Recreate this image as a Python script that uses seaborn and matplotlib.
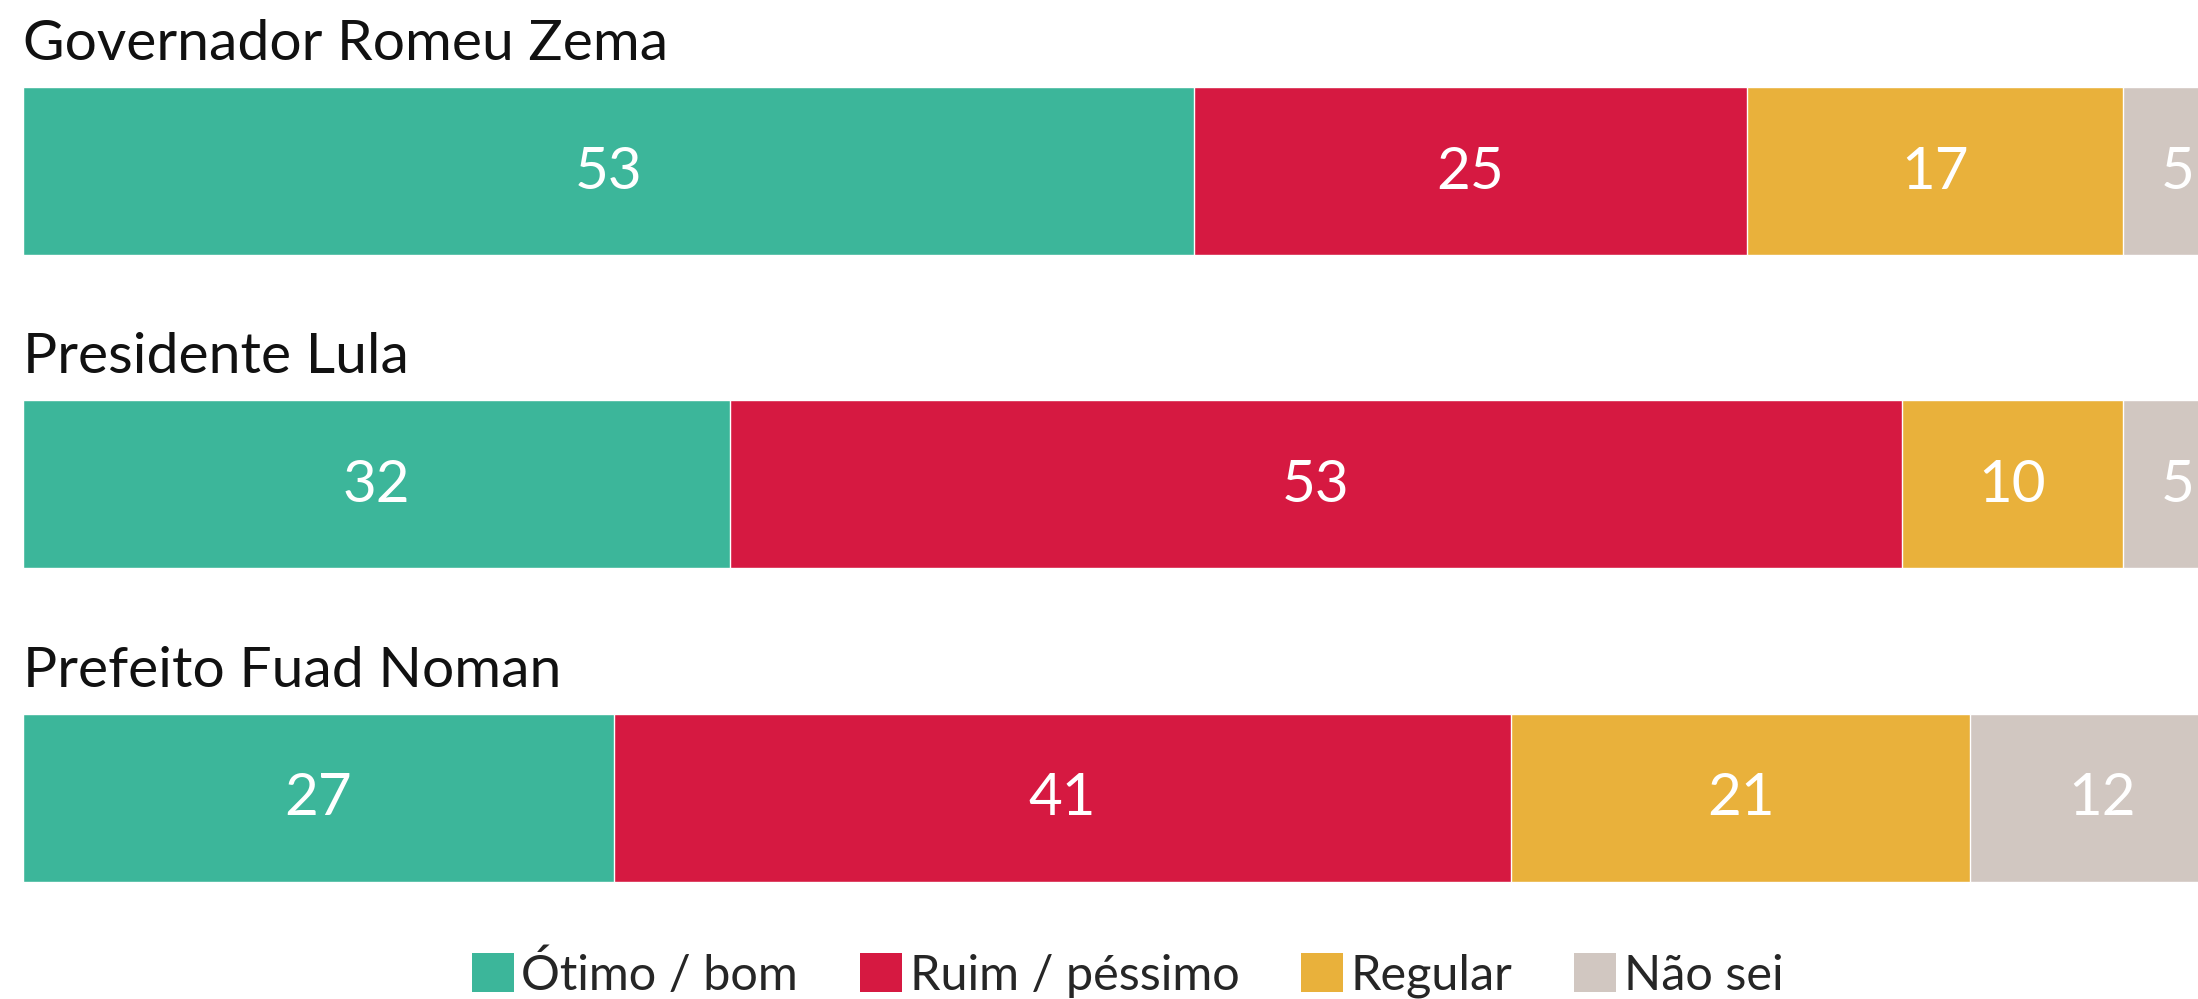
import numpy as np
import matplotlib.pyplot as plt
import seaborn as sns
from matplotlib.patches import Patch

# --- dados ---
names = ['Governador Romeu Zema', 'Presidente Lula', 'Prefeito Fuad Noman']
otimo = [53, 32, 27]
ruim = [25, 53, 41]
regular = [17, 10, 21]
nao_sei = [5, 5, 12]
labels = ['Ótimo / bom', 'Ruim / péssimo', 'Regular', 'Não sei']
colors = ['#3CB69A', '#D61941', '#E9B13B', '#D1C7C1']

sns.set_theme(style='white')
plt.rcParams['font.family'] = ['Lato', 'DejaVu Sans']

series = np.array([otimo, ruim, regular, nao_sei], dtype=float)
pct = series / series.sum(axis=0) * 100  # normalizado a 100% por linha
cums = np.cumsum(pct, axis=0)

W, H = 2198, 999
fig = plt.figure(figsize=(W / 100, H / 100), dpi=100)
left = 23 / W
ax = fig.add_axes([left, 0, 1 - left, 1])

# barras empilhadas: desenha do acumulado maior para o menor
for k in reversed(range(4)):
    sns.barplot(x=cums[k], y=names, color=colors[k], width=0.536,
                saturation=1, orient='h', ax=ax)

for i in range(len(names)):
    for k in range(4):
        c = cums[k][i] - pct[k][i] / 2
        ax.text(c, i + 0.057, f'{int(series[k][i])}', ha='center', va='baseline',
                color='white', fontsize=42)
    ax.text(0.02, i - 0.354, names[i], ha='left', va='baseline',
            color='#111111', fontsize=41)

ax.set_xlim(0, (W - 23) / 22.1)
ax.set_ylim(2.643, -0.546)
ax.axis('off')

handles = [Patch(facecolor=c, edgecolor='none') for c in colors]
fig.legend(handles, labels, loc='center', bbox_to_anchor=(0.513, 0.025),
           ncol=4, frameon=False, fontsize=35, handlelength=0.86, handleheight=0.86,
           handletextpad=0.16, columnspacing=1.27, borderpad=0)

fig.savefig('out.png', dpi=100)
